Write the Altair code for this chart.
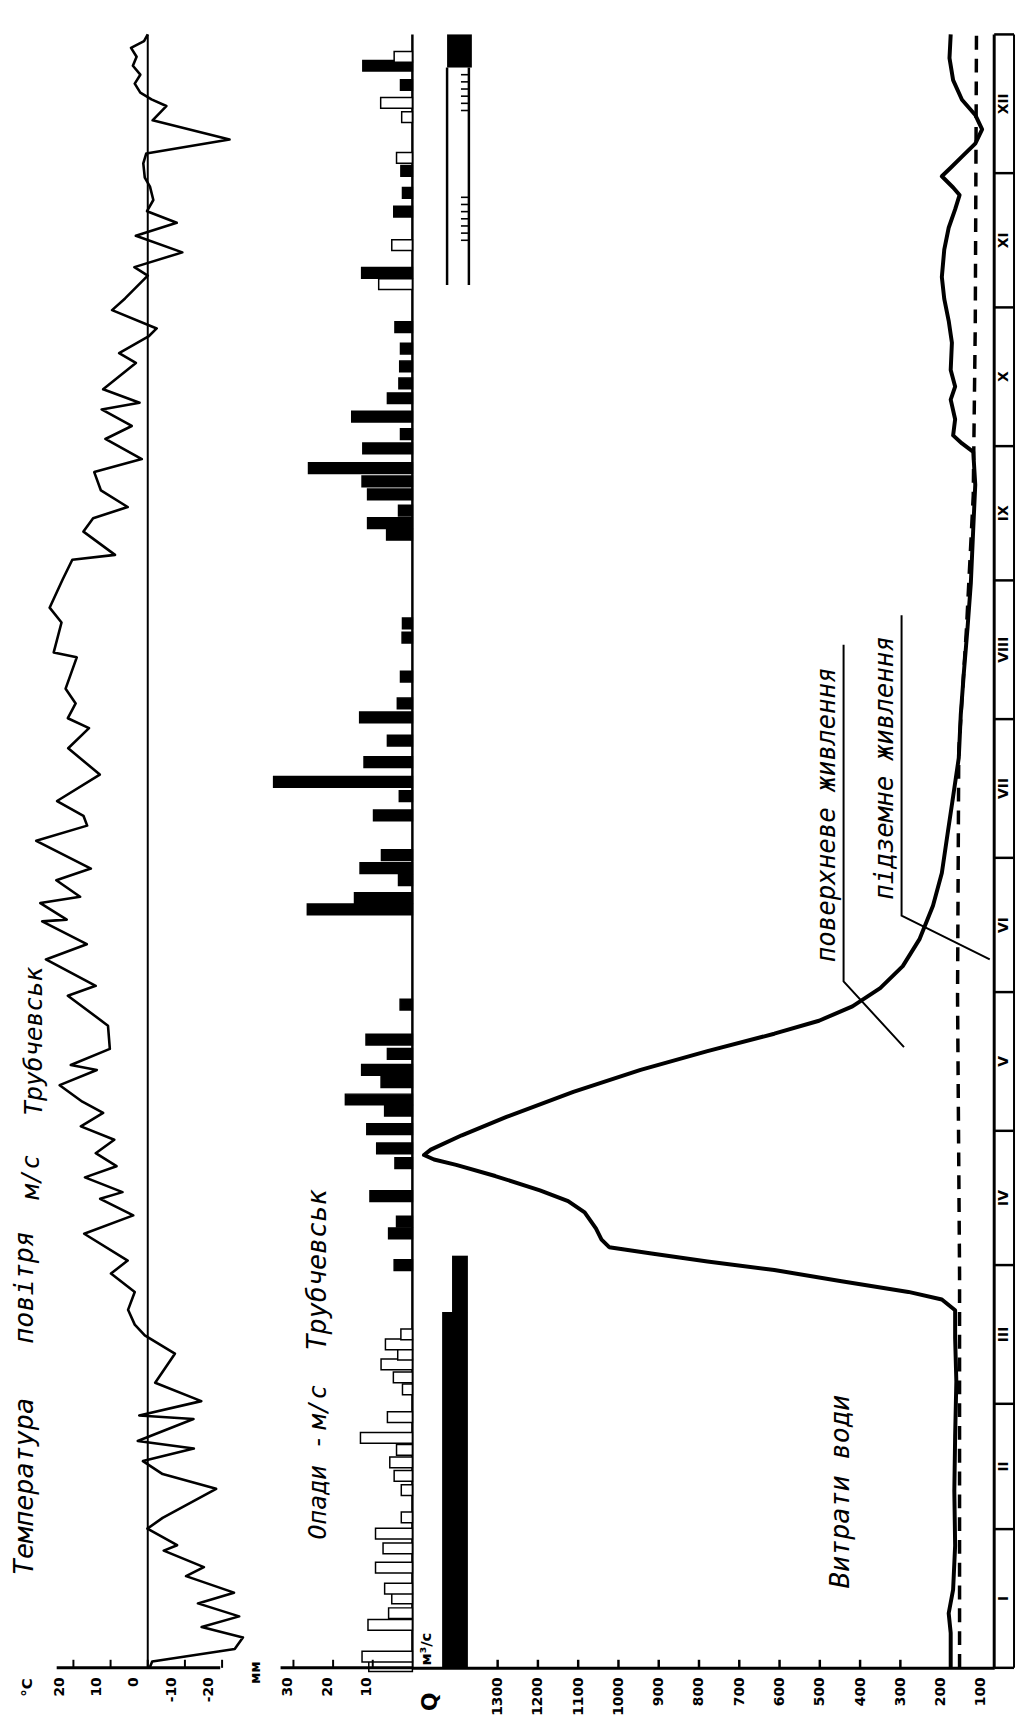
import altair as alt
import pandas as pd

# ---------------- data (day of year, 0 = 1 January) ----------------
month_names = ["I", "II", "III", "IV", "V", "VI", "VII", "VIII", "IX", "X", "XI", "XII"]
month_start = [0, 31, 59, 90, 120, 151, 181, 212, 243, 273, 304, 334, 365]

# air temperature, °C
temp_day = [0, 1.4, 4.2, 6.8, 9.1, 11.5, 14.4, 16.8, 20.5, 22.5, 26.2, 27.4, 31.1, 33.5, 40,
            43.3, 46.2, 49, 50.7, 55.6, 56.4, 59.6, 63.7, 70.2, 74.3, 76.7, 80, 84, 88.1, 91,
            97, 101.1, 104.8, 106.3, 109.6, 112.1, 115, 118, 121, 124, 126.5, 130.2, 133.6,
            134.7, 138.3, 143.5, 150.2, 152.4, 158.3, 161.7, 166.8, 167.2, 170.9, 172.3, 176,
            178.6, 184.8, 188.2, 190.4, 193.7, 199.6, 205.5, 210, 212.2, 215.5, 218.8, 225.8,
            226.9, 233.6, 236.9, 243.2, 247.6, 248.7, 253.9, 256.9, 259.4, 263.1, 267.2, 270.1,
            274.6, 277.5, 281.2, 282.7, 285.7, 291.6, 293.8, 297.5, 299.3, 303.4, 306, 311.1,
            313, 316.3, 320, 322.9, 325.5, 328, 331, 333, 336.2, 338.4, 341.5, 345.8, 349,
            350.5, 352, 354, 356, 358, 360, 362, 363.5, 365]
temp_c = [-0.5, -1.2, -23.4, -25.6, -14.5, -24.6, -13.5, -23.2, -10.3, -15.1, -4.3, -7.9, 0.1,
          -4, -18.4, -4, 1.3, -12.4, 2.7, -12.3, 2.3, -14.4, -2, -7.3, 0.8, 3.5, 5.3, 3.5, 9.9,
          5.4, 17.1, 3.9, 12.8, 6.8, 16.9, 8.4, 14, 9, 18, 12, 17.6, 23.7, 13.7, 20.7, 10.2,
          10.7, 21.5, 14, 27.4, 16.4, 28.4, 21.8, 28.9, 18.2, 24.6, 15.3, 30, 16.3, 17.3, 24.4,
          12.9, 21.4, 15.8, 21.5, 19.4, 22.1, 19.1, 25.3, 23.2, 26.4, 22.9, 20.3, 8.8, 17.3,
          14.7, 5.4, 12.6, 14.4, 1.6, 11.4, 4.3, 12.4, 2.2, 12.0, 3.2, 7.7, -0.2, -2.4, 9.6,
          6.1, 0, 3.6, -9.3, 3.2, -7.8, 0.2, -1.5, -0.6, 0.8, 1.2, 0.4, -22, -1.3, -5, -1,
          2, 3.5, 2, 4, 3, 4.5, 1, 0]

# precipitation, mm (liquid / solid)
rain_day = [90.0, 97.1, 99.7, 105.4, 112.8, 116.1, 120.4, 124.5, 127.0, 130.9, 133.6, 137.2,
            140.4, 148.2, 169.5, 172.0, 176.0, 178.7, 181.6, 190.5, 194.8, 198.0, 202.4, 207.2,
            212.4, 215.5, 221.5, 230.2, 233.4, 253.2, 255.8, 258.6, 262.2, 265.1, 268.1, 272.5,
            275.7, 279.6, 283.7, 287.0, 290.8, 294.8, 299.6, 311.7, 325.4, 329.6, 334.5, 353.7,
            358.0]
rain_mm = [4.6, 6, 4, 10.7, 4.4, 9, 11.5, 7, 16.9, 7.9, 12.8, 6.3, 11.7, 3.1, 26.5, 14.6, 3.5,
           13.2, 7.8, 9.8, 3.3, 35, 12.2, 6.3, 13.3, 3.8, 3, 2.6, 2.5, 6.5, 11.3, 3.5, 11.3,
           12.7, 26.2, 12.5, 3, 15.3, 6.3, 3.4, 3.2, 3, 4.4, 12.8, 4.7, 2.5, 2.9, 3, 12.5]
snow_day = [0.4, 2.5, 9.6, 12.2, 15.5, 17.7, 22.4, 26.7, 30.0, 33.6, 39.7, 42.9, 45.9, 48.7,
            51.4, 56.0, 62.2, 64.9, 67.8, 70.0, 72.3, 74.5, 309.2, 317.9, 337.4, 346.5, 349.7,
            360.0]
snow_mm = [11, 12.7, 11.2, 6, 5.2, 7, 9.3, 7.4, 9.3, 2.8, 2.8, 4.6, 5.7, 4, 13.1, 6.3, 2.5, 4.8,
           7.9, 3.7, 6.8, 2.9, 8.5, 5.2, 4, 2.7, 8, 4.6]

# water discharge, m3/s
q_day = [0, 7.8, 12.2, 17.5, 27.3, 39.5, 51.7, 64, 73.7, 79.9, 82.3, 84, 86.4, 88.9, 90.8, 92.6,
         94.0, 95.7, 98.2, 101.8, 104.3, 106.7, 109.9, 112.4, 113.6, 114.6, 115.8, 119, 123.1,
         128.7, 133.6, 137.8, 141.7, 144.6, 147.8, 151.9, 156.8, 162.9, 170.3, 177.6, 186.2,
         194.7, 203.3, 213, 222.8, 232.6, 242.4, 254.6, 264.4, 271.7, 273.6, 275.4, 279, 283.4,
         286.3, 290, 296.1, 301, 305.9, 310.8, 316.9, 321.8, 325.9, 329.1, 330.8, 333.3, 335.2,
         337.7, 340.6, 343.8, 347, 350.4, 354.8, 359.7, 365]
q_m3s = [175, 175, 180, 169, 164, 166, 164, 161, 164, 164, 197, 280, 446, 613, 779, 918, 1023,
         1042, 1056, 1084, 1125, 1195, 1306, 1403, 1458, 1483, 1466, 1389, 1278, 1112, 945, 779,
         613, 502, 419, 350, 294, 252, 219, 197, 183, 169, 155, 150, 142, 133, 125, 119, 114, 119,
         147, 169, 164, 175, 164, 175, 172, 180, 191, 197, 191, 180, 164, 153, 169, 197, 175, 147,
         114, 97, 114, 147, 169, 178, 175]
# groundwater (base) flow separation line
base_day = [0, 88, 150, 205, 232, 262, 300, 365]
base_m3s = [153, 153, 158, 155, 136, 119, 114, 111]

# ice phenomena (day ranges)
ice_cover = [0, 79.5]
ice_breakup = [79.5, 92.1]
ice_winter = [357.6, 365]
shore_ice = [309, 357.6]
frazil_day = [348, 349.6, 351.2, 352.8, 354.4, 356, 319, 320.6, 322.2, 323.8, 325.4, 327, 328.6]

temp_ticks = [20, 10, 0, -10, -20]
prec_ticks = [30, 20, 10]
q_ticks = [1300, 1200, 1100, 1000, 900, 800, 700, 600, 500, 400, 300, 200, 100]
q_tick_marks = [1300, 1200, 1100, 1000, 900, 800, 700, 600, 500, 400, 300]

# ---------------- layout / scales ----------------
H = 1648
W_T, W_P, W_Q, W_M = 252, 153, 587, 20
FONT = "DejaVu Sans"
HAND = "DejaVu Sans Mono"

ys = alt.Scale(domain=[0, 365], nice=False, zero=False)
ts = alt.Scale(domain=[-30.4, 36.8], reverse=True, nice=False, zero=False)
ps = alt.Scale(domain=[0, 38.25], reverse=True, nice=False, zero=False)
qs = alt.Scale(domain=[67, 1511.7], reverse=True, nice=False, zero=False)


def lab_axis(vals, domain=False, offset=0):
    return alt.Axis(values=vals, title=None, labelAngle=270, labelFont=FONT,
                    labelFontWeight="bold", labelFontSize=14, labelColor="black",
                    labelPadding=9, ticks=False, domain=domain, domainColor="black",
                    domainWidth=3, grid=False, labelOverlap=False, labelFlush=False,
                    labelOffset=offset,
                    labelExpr="datum.value < 0 ? '-' + abs(datum.value) : '' + datum.value")


t_axis = lab_axis(temp_ticks, offset=-14)
p_axis = lab_axis(prec_ticks, offset=-6)
q_axis = lab_axis(q_ticks, domain=True)

one = pd.DataFrame({"k": [0]})


def YF(f):
    return alt.Y(f, scale=ys, axis=None)


def YD(v):
    return alt.YDatum(v, scale=ys, axis=None, type="quantitative")


def hand_text(df, size):
    return alt.Chart(df).mark_text(angle=270, font=HAND, fontSize=size, fontStyle="italic",
                                   color="black")


# ---------------- temperature panel ----------------
tdf = pd.DataFrame({"day": temp_day, "t": temp_c})
TX = lambda f: alt.X(f, scale=ts, axis=t_axis)
TXD = lambda v: alt.XDatum(v, scale=ts, axis=t_axis, type="quantitative")

t_line = alt.Chart(tdf).mark_line(color="black", strokeWidth=2.6, strokeJoin="round").encode(
    x=TX("t:Q"), y=YF("day:Q"), order="day:Q")
t_zero = alt.Chart(one).mark_rule(color="black", strokeWidth=2).encode(
    x=TXD(0), y=YD(0), y2=alt.Y2Datum(365))
t_base = alt.Chart(one).mark_rule(color="black", strokeWidth=3).encode(
    x=TXD(24.5), x2=alt.X2Datum(-19.5), y=YD(0))
t_tick = alt.Chart(pd.DataFrame({"v": temp_ticks})).mark_rule(color="black", strokeWidth=2).encode(
    x=TX("v:Q"), y=YD(0), y2=alt.Y2Datum(1.8))
t_title1 = hand_text(pd.DataFrame({"w": ["Температура", "повітря"], "day": [40.5, 85.0],
                                   "t": [33.1, 33.1]}), 27).encode(
    x=TX("t:Q"), y=YF("day:Q"), text="w:N")
t_title2 = hand_text(pd.DataFrame({"w": ["м/с", "Трубчевськ"], "day": [109.7, 140.0],
                                   "t": [31.5, 30.7]}), 25).encode(
    x=TX("t:Q"), y=YF("day:Q"), text="w:N")
t_unit = alt.Chart(pd.DataFrame({"w": ["°C"], "day": [-4.4], "t": [32.5]})).mark_text(
    angle=270, font=FONT, fontSize=15, fontWeight="bold", color="black").encode(
    x=TX("t:Q"), y=YF("day:Q"), text="w:N")

temp_panel = alt.layer(t_zero, t_base, t_tick, t_line, t_title1, t_title2, t_unit).properties(
    width=W_T, height=H)

# ---------------- precipitation panel ----------------
pdf = pd.DataFrame({"day": rain_day + snow_day, "mm": rain_mm + snow_mm,
                    "kind": ["rain"] * len(rain_day) + ["snow"] * len(snow_day)})
PX = lambda f: alt.X(f, scale=ps, axis=p_axis)
PXD = lambda v: alt.XDatum(v, scale=ps, axis=p_axis, type="quantitative")

p_bars = alt.Chart(pdf).transform_calculate(
    d0="datum.day - 1.2", d1="datum.day + 1.2").mark_rect(
    stroke="black", strokeWidth=1.5).encode(
    x=PX("mm:Q"), x2=alt.X2Datum(0), y=YF("d0:Q"), y2="d1:Q",
    fill=alt.Fill("kind:N", scale=alt.Scale(domain=["rain", "snow"], range=["black", "white"]),
                  legend=None))
p_zero = alt.Chart(one).mark_rule(color="black", strokeWidth=2.5).encode(
    x=PXD(0), y=YD(0), y2=alt.Y2Datum(365))
p_base = alt.Chart(one).mark_rule(color="black", strokeWidth=3).encode(
    x=PXD(33.25), x2=alt.X2Datum(0), y=YD(0))
p_tick = alt.Chart(pd.DataFrame({"v": prec_ticks})).mark_rule(color="black", strokeWidth=2).encode(
    x=PX("v:Q"), y=YD(0), y2=alt.Y2Datum(1.8))
p_title1 = hand_text(pd.DataFrame({"w": ["Опади", "-", "м/с"], "day": [37.0, 50.5, 58.3],
                                   "mm": [23.75, 23.75, 23.75]}), 25).encode(
    x=PX("mm:Q"), y=YF("day:Q"), text="w:N")
p_title2 = hand_text(pd.DataFrame({"w": ["Трубчевськ"], "day": [88.9], "mm": [23.75]}), 27).encode(
    x=PX("mm:Q"), y=YF("day:Q"), text="w:N")
p_unit = alt.Chart(pd.DataFrame({"w": ["мм"], "day": [-1.1], "mm": [39.5]})).mark_text(
    angle=270, font=FONT, fontSize=14, fontWeight="bold", color="black").encode(
    x=PX("mm:Q"), y=YF("day:Q"), text="w:N")

prec_panel = alt.layer(p_zero, p_bars, p_base, p_tick, p_title1, p_title2, p_unit).properties(
    width=W_P, height=H)

# ---------------- discharge panel ----------------
qdf = pd.DataFrame({"day": q_day, "q": q_m3s})
bdf = pd.DataFrame({"day": base_day, "q": base_m3s})
QX = lambda f: alt.X(f, scale=qs, axis=q_axis)

q_line = alt.Chart(qdf).mark_line(color="black", strokeWidth=4, strokeJoin="round").encode(
    x=QX("q:Q"), y=YF("day:Q"), order="day:Q")
q_base = alt.Chart(bdf).mark_line(color="black", strokeWidth=3.5, strokeDash=[14, 9]).encode(
    x=QX("q:Q"), y=YF("day:Q"), order="day:Q")
q_tick = alt.Chart(pd.DataFrame({"v": q_tick_marks})).mark_rule(color="black", strokeWidth=2.5).encode(
    x=QX("v:Q"), y=YD(0), y2=alt.Y2Datum(1.8))

ice1 = alt.Chart(pd.DataFrame({"s": [ice_cover[0]], "e": [ice_cover[1]]})).mark_rect(
    color="black").encode(x=alt.value(30), x2=alt.value(56), y=YF("s:Q"), y2="e:Q")
ice2 = alt.Chart(pd.DataFrame({"s": [ice_breakup[0]], "e": [ice_breakup[1]]})).mark_rect(
    color="black").encode(x=alt.value(40), x2=alt.value(56), y=YF("s:Q"), y2="e:Q")
ice3 = alt.Chart(pd.DataFrame({"s": [ice_winter[0]], "e": [ice_winter[1]]})).mark_rect(
    color="black").encode(x=alt.value(35), x2=alt.value(60), y=YF("s:Q"), y2="e:Q")
shore_l = alt.Chart(pd.DataFrame({"s": [shore_ice[0]], "e": [shore_ice[1]]})).mark_rule(
    color="black", strokeWidth=2.5).encode(x=alt.value(35), y=YF("s:Q"), y2="e:Q")
shore_r = alt.Chart(pd.DataFrame({"s": [shore_ice[0]], "e": [shore_ice[1]]})).mark_rule(
    color="black", strokeWidth=2.5).encode(x=alt.value(57), y=YF("s:Q"), y2="e:Q")
frazil = alt.Chart(pd.DataFrame({"d": frazil_day})).mark_rule(
    color="black", strokeWidth=1.6).encode(x=alt.value(49), x2=alt.value(57), y=YF("d:Q"))

ann_lines = alt.Chart(pd.DataFrame({
    "g": ["a", "a", "a", "b", "b", "b"], "i": [0, 1, 2, 0, 1, 2],
    "q": [441, 441, 291, 297, 297, 78],
    "day": [228.6, 153.4, 138.7, 235.2, 168.1, 158.3]})).mark_line(
    color="black", strokeWidth=2).encode(
    x=QX("q:Q"), y=YF("day:Q"), detail="g:N", order="i:Q")
ann_text = hand_text(pd.DataFrame({
    "w": ["поверхневе живлення", "підземне живлення"],
    "q": [482, 338], "day": [190.6, 201.1]}), 26).encode(
    x=QX("q:Q"), y=YF("day:Q"), text="w:N")
q_name = hand_text(pd.DataFrame({"w": ["Витрати води"], "q": [446], "day": [39.4]}), 27).encode(
    x=QX("q:Q"), y=YF("day:Q"), text="w:N")
q_unit1 = alt.Chart(pd.DataFrame({"w": ["Q"], "q": [1468], "day": [-7.6]})).mark_text(
    angle=270, font=FONT, fontSize=22, fontWeight="bold", color="black").encode(
    x=QX("q:Q"), y=YF("day:Q"), text="w:N")
q_unit2 = alt.Chart(pd.DataFrame({"w": ["м³/с"], "q": [1477], "day": [4.2]})).mark_text(
    angle=270, font=FONT, fontSize=15, fontWeight="bold", color="black").encode(
    x=QX("q:Q"), y=YF("day:Q"), text="w:N")

q_panel = alt.layer(q_base, q_line, q_tick, ice1, ice2, ice3, shore_l, shore_r, frazil,
                    ann_lines, ann_text, q_name, q_unit1, q_unit2).properties(width=W_Q, height=H)

# ---------------- month strip ----------------
mdf = pd.DataFrame({"b": month_start})
mlab = pd.DataFrame({"m": month_names,
                     "mid": [(month_start[i] + month_start[i + 1]) / 2 for i in range(12)]})
m_lines = alt.Chart(mdf).mark_rule(color="black", strokeWidth=2.5).encode(
    x=alt.value(0), x2=alt.value(W_M), y=YF("b:Q"))
m_left = alt.Chart(one).mark_rule(color="black", strokeWidth=3).encode(
    x=alt.value(0), y=YD(0), y2=alt.Y2Datum(365))
m_right = alt.Chart(one).mark_rule(color="black", strokeWidth=2).encode(
    x=alt.value(W_M), y=YD(0), y2=alt.Y2Datum(365))
m_text = alt.Chart(mlab).mark_text(angle=270, font=FONT, fontSize=14, fontWeight="bold",
                                   color="black").encode(
    x=alt.value(W_M / 2), y=YF("mid:Q"), text="m:N")
month_panel = alt.layer(m_lines, m_left, m_right, m_text).properties(width=W_M, height=H)

chart = alt.hconcat(temp_panel, prec_panel, q_panel, month_panel, spacing=0, bounds="flush").properties(
    padding={"left": 2, "top": 12, "right": 0, "bottom": 0}
).configure_view(stroke=None).configure_concat(spacing=0)

chart.save("out.html", embed_options={"renderer": "svg", "actions": False})
